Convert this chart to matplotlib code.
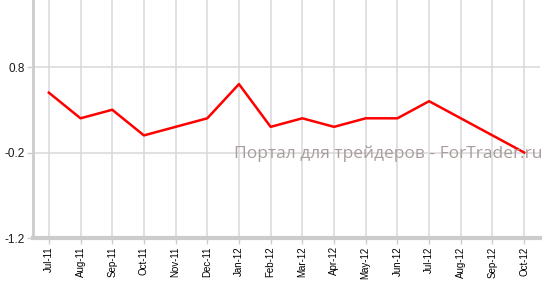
import matplotlib
import matplotlib.pyplot as plt
import numpy as np

matplotlib.use("Agg")

months = ["Jul-11", "Aug-11", "Sep-11", "Oct-11", "Nov-11", "Dec-11",
          "Jan-12", "Feb-12", "Mar-12", "Apr-12", "May-12", "Jun-12",
          "Jul-12", "Aug-12", "Sep-12", "Oct-12"]
values = [0.5, 0.2, 0.3, 0.0, 0.1, 0.2, 0.6, 0.1, 0.2, 0.1, 0.2, 0.2,
          0.4, 0.2, 0.0, -0.2]
y_ticks = [0.8, -0.2, -1.2]

fig = plt.figure(figsize=(5.5, 2.81), dpi=100)
# axes box in figure pixels: left 33, right 540, bottom 238, top 0
ax = fig.add_axes([33 / 550, 1 - 238 / 281, (540 - 33) / 550, 238 / 281])

x = np.arange(len(months))
ax.plot(x, values, color="#ff0000", linewidth=1.8, zorder=4)

ax.set_xlim(-0.5, len(months) - 0.5)
ax.set_ylim(-1.2, 0.8 + 67 / 85.5)

ax.set_xticks(x)
ax.set_xticklabels(months, rotation=90, fontsize=7, family="Liberation Sans")
ax.set_yticks(y_ticks)
ax.set_yticklabels([f"{v:g}" for v in y_ticks], fontsize=8.5,
                   family="Liberation Sans", color="#1a1a1a")

ax.grid(True, color="#d9d9d9", linewidth=1.1, zorder=0)
ax.set_axisbelow(True)

for side in ["top", "right"]:
    ax.spines[side].set_visible(False)
ax.spines["left"].set_color("#cccccc")
ax.spines["left"].set_linewidth(2)
ax.spines["bottom"].set_color("#cccccc")
ax.spines["bottom"].set_linewidth(3)
ax.tick_params(axis="both", length=4, width=1, color="#cccccc", pad=2)

# watermark
fig.text(234 / 550, 1 - 154 / 281, "Портал для трейдеров - ForTrader.ru",
         fontsize=12.5, color="#a99c9c", family="Open Sans",
         ha="left", va="center", zorder=3)

fig.savefig("out.png", dpi=100)
